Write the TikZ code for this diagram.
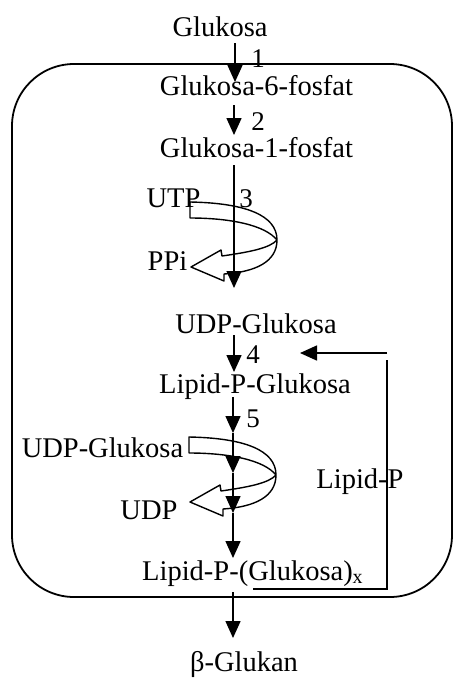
\documentclass[tikz,border=0pt]{standalone}
\usepackage{fontspec}
\setmainfont{Liberation Serif}
\usetikzlibrary{arrows.meta}
\tikzset{
  lbl/.style={anchor=base, inner sep=0pt, font=\fontsize{28.5}{30}\selectfont},
  num/.style={anchor=base, inner sep=0pt, font=\fontsize{27}{29}\selectfont},
  flow/.style={line width=1.5pt, -{Triangle[width=15pt,length=17pt]}},
  plain/.style={line width=1.5pt},
  ribbon/.style={line width=1.4pt, line join=round},
  cell/.style={line width=1.8pt, rounded corners=62pt}
}
\begin{document}
\begin{tikzpicture}[x=1pt,y=-1pt]
\useasboundingbox (0,0) rectangle (454,681);
% cell boundary
\draw[cell] (12,64) rectangle (452,597);
% texts
\node[lbl] (glc) at (220,36) {Glukosa};
\node[lbl] (g6p) at (256.5,95) {Glukosa-6-fosfat};
\node[lbl] (g1p) at (256.5,157) {Glukosa-1-fosfat};
\node[lbl] (utp) at (173.5,207) {UTP};
\node[lbl] (ppi) at (167.5,270) {PPi};
\node[lbl] (udpg) at (256,333) {UDP-Glukosa};
\node[lbl] (lpg) at (255,393) {Lipid-P-Glukosa};
\node[lbl] (udpg2) at (102.5,457) {UDP-Glukosa};
\node[lbl] (udp) at (149,519) {UDP};
\node[lbl] (lp) at (360,488) {Lipid-P};
\node[lbl, anchor=base west] (lpgx) at (142,580) {Lipid-P-(Glukosa)$_{\mathrm{x}}$};
\node[lbl] (bg) at (244,671) {β-Glukan};
% step numbers
\node[num] (n1) at (258,67) {1};
\node[num] (n2) at (258,130) {2};
\node[num] (n3) at (246,207) {3};
\node[num] (n4) at (253,363) {4};
\node[num] (n5) at (253,427) {5};
% connector points
\coordinate (a1s) at (235,43);  \coordinate (a1e) at (235,82);
\coordinate (a2s) at (234,105); \coordinate (a2e) at (234,135);
\coordinate (a3s) at (234,165); \coordinate (a3e) at (234,288);
\coordinate (a4s) at (234,335); \coordinate (a4e) at (234,372);
\coordinate (a5s) at (233,397); \coordinate (a5e) at (233,433);
\coordinate (a6e) at (233,473);
\coordinate (a7e) at (233,513);
\coordinate (a8e) at (233,558);
\coordinate (a9s) at (233,592); \coordinate (a9e) at (233,638);
\coordinate (fbs) at (387,353); \coordinate (fbe) at (300,353);
\coordinate (lpt) at (387,360); \coordinate (lpb) at (387,589);
\coordinate (lpl) at (253,589);
% main arrows
\draw[flow] (a1s) -- (a1e);
\draw[flow] (a2s) -- (a2e);
\draw[flow] (a3s) -- (a3e);
\draw[flow] (a4s) -- (a4e);
\draw[flow] (a5s) -- (a5e);
\draw[flow] (a5e) -- (a6e);
\draw[flow] (a6e) -- (a7e);
\draw[flow] (a7e) -- (a8e);
\draw[flow] (a9s) -- (a9e);
% lipid-P recycling
\draw[flow] (fbs) -- (fbe);
\draw[plain] (lpt) -- (lpb) -- (lpl);
% ribbon arrows
\foreach \dy/\dx in {0/0, 235/-1}{
\draw[ribbon, shift={(\dx,\dy)}]
  (190,202) .. controls (245,203) and (277,215) .. (277,240)
  .. controls (277,262) and (255,272) .. (224,274)
  -- (224,281) -- (191,267) -- (221,250) -- (222,256)
  .. controls (250,252) and (270,248) .. (277,240)
  .. controls (265,225) and (230,218) .. (190,218)
  -- cycle;
}
\end{tikzpicture}
\end{document}
